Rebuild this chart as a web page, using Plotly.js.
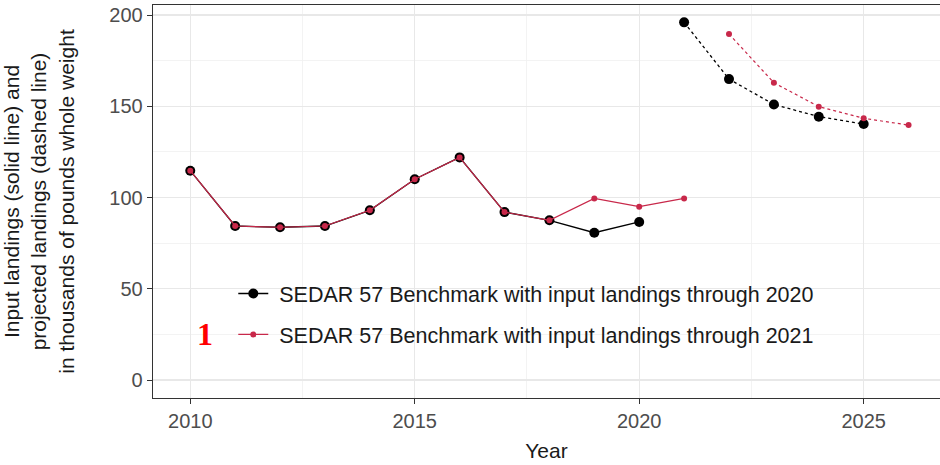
<!DOCTYPE html>
<html>
<head>
<meta charset="utf-8">
<script src="https://cdn.plot.ly/plotly-3.0.1.min.js"></script>
<style>html,body{margin:0;padding:0;background:#fff;}#chart{width:940px;height:465px;}</style>
</head>
<body>
<div id="chart"></div>
<script>
// Input landings, SEDAR 57 with landings through 2020
var years2020 = [2010, 2011, 2012, 2013, 2014, 2015, 2016, 2017, 2018, 2019, 2020];
var input2020 = [114.7, 84.4, 83.7, 84.4, 93, 110, 122, 92, 87.5, 80.7, 86.6];
var projYears2020 = [2021, 2022, 2023, 2024, 2025];
var proj2020 = [196, 164.9, 151, 144.3, 140.3];

// Input landings, SEDAR 57 with landings through 2021
var years2021 = [2010, 2011, 2012, 2013, 2014, 2015, 2016, 2017, 2018, 2019, 2020, 2021];
var input2021 = [114.7, 84.4, 83.7, 84.4, 93, 110, 122, 92, 87.5, 99.5, 95, 99.5];
var projYears2021 = [2022, 2023, 2024, 2025, 2026];
var proj2021 = [189.6, 162.9, 149.8, 143.4, 139.7];

var seriesNames = ['SEDAR 57 Benchmark with input landings through 2020',
                   'SEDAR 57 Benchmark with input landings through 2021'];
var xTicks = [2010, 2015, 2020, 2025];
var yTicks = [0, 50, 100, 150, 200];

var BLACK = '#000000';
var RED = '#c8284a';

var traces = [
  {x: years2020, y: input2020, type: 'scatter', mode: 'lines+markers', name: '\u00a0' + seriesNames[0],
   legendgroup: 'a', showlegend: true,
   line: {color: BLACK, width: 1.3}, marker: {color: BLACK, size: 10}},
  {x: projYears2020, y: proj2020, type: 'scatter', mode: 'lines+markers', name: seriesNames[0],
   legendgroup: 'a', showlegend: false,
   line: {color: BLACK, width: 1.3, dash: '3px,3px'}, marker: {color: BLACK, size: 10}},
  {x: years2021, y: input2021, type: 'scatter', mode: 'lines+markers', name: '\u00a0' + seriesNames[1],
   legendgroup: 'b', showlegend: true,
   line: {color: RED, width: 1.2}, marker: {color: RED, size: 6}},
  {x: projYears2021, y: proj2021, type: 'scatter', mode: 'lines+markers', name: seriesNames[1],
   legendgroup: 'b', showlegend: false,
   line: {color: RED, width: 1.2, dash: '3px,3px'}, marker: {color: RED, size: 6}}
];

var FONT = 'Liberation Sans, Arial, sans-serif';

var layout = {
  width: 940, height: 465,
  margin: {l: 153, r: 0, t: 5, b: 67},
  paper_bgcolor: '#ffffff', plot_bgcolor: '#ffffff',
  font: {family: FONT, color: '#1a1a1a'},
  xaxis: {
    range: [2009.17, 2026.7], tickmode: 'array', tickvals: xTicks,
    ticktext: xTicks.map(String),
    ticks: 'outside', ticklen: 5, tickcolor: '#333333', tickwidth: 1,
    tickfont: {size: 20, color: '#4d4d4d', family: FONT},
    showline: true, mirror: true, linecolor: '#333333', linewidth: 1.3,
    showgrid: true, gridcolor: '#e8e8e8', gridwidth: 1.2, zeroline: false,
    minor: {tickmode: 'linear', tick0: 2007.5, dtick: 5, showgrid: true, gridcolor: '#f0f0f0', gridwidth: 0.8, ticks: ''},
    title: {text: 'Year', font: {size: 21, color: '#1a1a1a', family: FONT}, standoff: 12}
  },
  yaxis: {
    range: [-9.86, 205.5], tickmode: 'array', tickvals: yTicks,
    ticktext: yTicks.map(String),
    ticks: 'outside', ticklen: 5, tickcolor: '#333333', tickwidth: 1,
    tickfont: {size: 20, color: '#4d4d4d', family: FONT},
    showline: true, mirror: false, linecolor: '#333333', linewidth: 1.3,
    showgrid: true, gridcolor: '#e8e8e8', gridwidth: 1.2, zeroline: false,
    minor: {tickmode: 'linear', tick0: 25, dtick: 50, showgrid: true, gridcolor: '#f0f0f0', gridwidth: 0.8, ticks: ''},
    title: {text: 'Input landings (solid line) and<br>projected landings (dashed line)<br>in thousands of pounds whole weight',
            font: {size: 21, color: '#1a1a1a', family: FONT}, standoff: 30}
  },
  showlegend: true,
  legend: {
    x: 0.102, y: 0.318, xanchor: 'left', yanchor: 'top',
    bgcolor: 'rgba(0,0,0,0)', borderwidth: 0,
    font: {size: 21.5, color: '#1a1a1a', family: FONT},
    tracegroupgap: 10
  },
  annotations: [
    {xref: 'paper', yref: 'paper', x: (205 - 153) / 787, y: (398 - 334) / 393,
     xanchor: 'center', yanchor: 'middle', showarrow: false, text: '<b>1</b>',
     font: {family: 'Liberation Serif, Times New Roman, serif', size: 32, color: '#ff0000'}}
  ]
};

Plotly.newPlot('chart', traces, layout, {displayModeBar: false, staticPlot: true});
</script>
</body>
</html>
